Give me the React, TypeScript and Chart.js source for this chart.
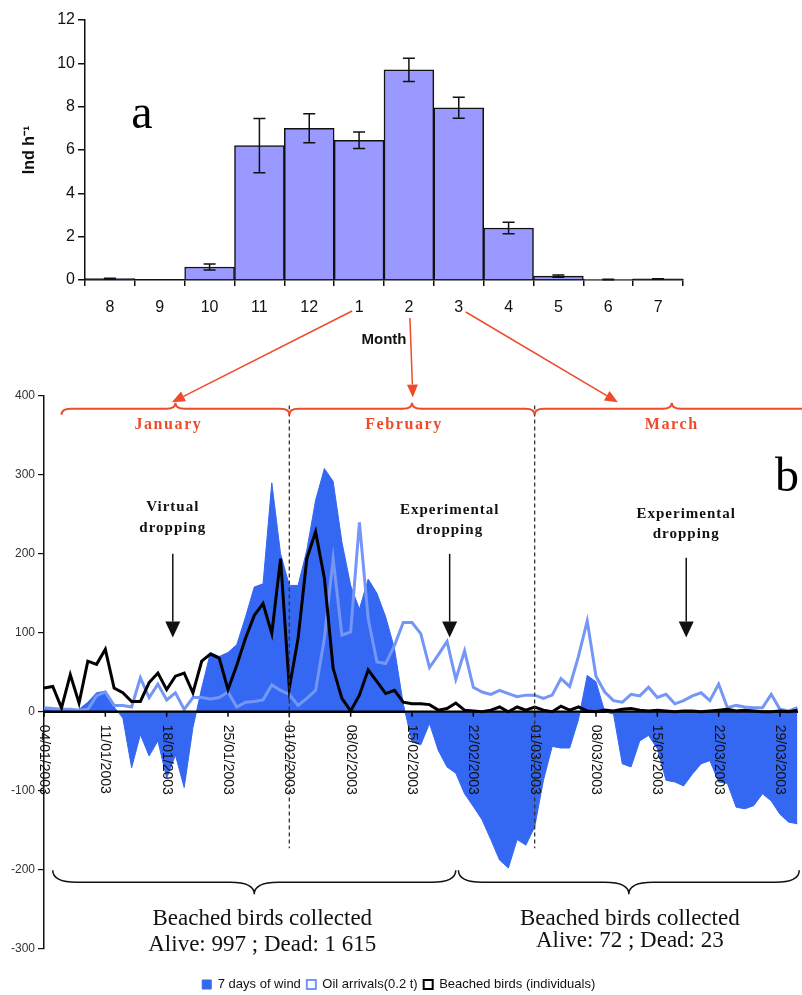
import React, { useEffect, useRef } from 'react';
import { Chart, registerables } from 'chart.js';

Chart.register(...registerables);

const SANS = '"Liberation Sans", Arial, sans-serif';
const SERIF = '"Liberation Serif", "Times New Roman", serif';
const RED = '#ee4b2b';
const WIND = '#3568f2';
const OIL = '#7496f6';

// ---- panel a ----
const months = ['8', '9', '10', '11', '12', '1', '2', '3', '4', '5', '6', '7'];
const monthlyRate = [0.06, 0, 0.6, 6.2, 7.0, 6.45, 9.7, 7.95, 2.4, 0.18, 0.02, 0.05];
const monthlyErr = [0.02, 0, 0.14, 1.25, 0.67, 0.38, 0.54, 0.48, 0.27, 0.05, 0.01, 0.01];

// ---- panel b ----
const dayTickLabels = [
  '04/01/2003', '11/01/2003', '18/01/2003', '25/01/2003', '01/02/2003', '08/02/2003',
  '15/02/2003', '22/02/2003', '01/03/2003', '08/03/2003', '15/03/2003', '22/03/2003', '29/03/2003',
];
const wind7d = [
  3, 2, 2, 1, 3, 12, 24, 26, 6, -8,
  -71, -29, -56, -37, -84, -55, -96, -20, 30, 75,
  70, 75, 85, 120, 158, 162, 290, 200, 160, 160,
  205, 268, 308, 292, 215, 160, 130, 168, 150, 120,
  80, 10, -38, -42, -15, -49, -70, -78, -104, -120,
  -137, -162, -188, -198, -162, -169, -146, -87, -44, -46,
  -46, -10, 46, 38, 0, -3, -66, -70, -37, -30,
  -47, -87, -89, -94, -79, -66, -62, -89, -91, -121,
  -123, -119, -104, -113, -130, -140, -142,
];
const oilArrivals = [
  5, 4, 3, 3, 2, 3, 20, 25, 8, 8,
  6, 43, 18, 35, 15, 24, 3, 18, 18, 16,
  18, 25, 6, 12, 13, 15, 34, 27, 22, 8,
  17, 27, 93, 194, 97, 101, 240, 118, 63, 61,
  84, 113, 113, 99, 56, 72, 89, 41, 77, 31,
  25, 22, 27, 23, 19, 21, 21, 17, 21, 42,
  32, 70, 115, 45, 25, 14, 12, 22, 20, 31,
  18, 22, 10, 14, 20, 24, 14, 35, 5, 8,
  6, 5, 5, 22, 3, 1, 5,
];
const beachedBirds = [
  30, 32, 5, 47, 11, 64, 60, 79, 30, 24,
  13, 13, 37, 49, 28, 45, 49, 24, 64, 73,
  68, 28, 59, 93, 122, 137, 99, 194, 30, 93,
  194, 228, 169, 55, 17, 1, 21, 53, 38, 23,
  27, 12, 10, 10, 9, 2, 4, 11, 2, 1,
  0, 2, 6, 0, 6, 2, 6, 2, 0, 7,
  2, 6, 1, 0, 2, 1, 3, 4, 2, 1,
  2, 1, 0, 1, 1, 0, 1, 2, 3, 1,
  2, 1, 0, 0, 1, 0, 2,
];
const START = Date.UTC(2003, 0, 4);
const pad2 = (n: number) => (n < 10 ? '0' + n : '' + n);
const dayLabels = wind7d.map((_, k) => {
  const d = new Date(START + k * 86400000);
  return `${pad2(d.getUTCDate())}/${pad2(d.getUTCMonth() + 1)}/${d.getUTCFullYear()}`;
});

const monthBraces = [
  { a: 2, b: 28, label: 'January', dx: -7 },
  { a: 28, b: 56, label: 'February', dx: -8 },
  { a: 56, b: 87.3, label: 'March', dx: 0 },
];
const monthArrows = [
  { from: 5, dx: -7, dy: 31, toI: 14.6, toV: 392 },
  { from: 6, dx: 1, dy: 38, toI: 42.1, toV: 398 },
  { from: 7, dx: 7, dy: 32, toI: 65.5, toV: 392 },
];
const droppings = [
  { i: 14.7, lines: ['Virtual', 'dropping'], t1: 259, t2: 233, top: 200, tip: 94 },
  { i: 46.3, lines: ['Experimental', 'dropping'], t1: 255, t2: 230, top: 200, tip: 94 },
  { i: 73.3, lines: ['Experimental', 'dropping'], t1: 250, t2: 225, top: 195, tip: 94 },
];
const collected = [
  { a: 1, b: 47, l1: 'Beached birds collected', l2: 'Alive: 997 ; Dead: 1 615' },
  { a: 47.3, b: 86.2, l1: 'Beached birds collected', l2: 'Alive: 72 ; Dead: 23' },
];

const TOP_Y = 0;
const BOT_Y = 290;

function brace(ctx: CanvasRenderingContext2D, x1: number, x2: number, yb: number, h: number, r: number, s: number) {
  const xm = (x1 + x2) / 2;
  ctx.beginPath();
  ctx.moveTo(x1, yb + s * h);
  ctx.quadraticCurveTo(x1, yb, x1 + r, yb);
  ctx.lineTo(xm - r, yb);
  ctx.quadraticCurveTo(xm, yb, xm, yb - s * h);
  ctx.quadraticCurveTo(xm, yb, xm + r, yb);
  ctx.lineTo(x2 - r, yb);
  ctx.quadraticCurveTo(x2, yb, x2, yb + s * h);
  ctx.stroke();
}

function arrow(ctx: CanvasRenderingContext2D, x1: number, y1: number, x2: number, y2: number, len: number, w: number) {
  const ang = Math.atan2(y2 - y1, x2 - x1);
  const bx = x2 - len * Math.cos(ang);
  const by = y2 - len * Math.sin(ang);
  ctx.beginPath();
  ctx.moveTo(x1, y1);
  ctx.lineTo(bx, by);
  ctx.stroke();
  ctx.beginPath();
  ctx.moveTo(x2, y2);
  ctx.lineTo(bx + (w / 2) * Math.sin(ang), by - (w / 2) * Math.cos(ang));
  ctx.lineTo(bx - (w / 2) * Math.sin(ang), by + (w / 2) * Math.cos(ang));
  ctx.closePath();
  ctx.fill();
}

const errorBarPlugin = {
  id: 'errorBars',
  afterDatasetsDraw(chart: any) {
    const { ctx, scales: { x, y } } = chart;
    ctx.save();
    ctx.strokeStyle = '#111';
    ctx.lineWidth = 1.5;
    monthlyRate.forEach((v, i) => {
      const e = monthlyErr[i];
      if (!e) return;
      const cx = x.getPixelForValue(i);
      const yt = y.getPixelForValue(v + e);
      const yb = y.getPixelForValue(Math.max(0, v - e));
      const cap = 6;
      ctx.beginPath();
      ctx.moveTo(cx, yt); ctx.lineTo(cx, yb);
      ctx.moveTo(cx - cap, yt); ctx.lineTo(cx + cap, yt);
      ctx.moveTo(cx - cap, yb); ctx.lineTo(cx + cap, yb);
      ctx.stroke();
    });
    ctx.fillStyle = '#000';
    ctx.font = `48px ${SERIF}`;
    ctx.textAlign = 'center';
    ctx.textBaseline = 'alphabetic';
    ctx.fillText('a', x.getPixelForValue(0.64), y.getPixelForValue(7.0));
    ctx.restore();
  },
};

const makeAnnotations = (topChart: any) => ({
  id: 'annotations',
  afterDatasetsDraw(chart: any) {
    const { ctx, chartArea, scales: { x, y } } = chart;
    const px = (i: number) => x.getPixelForValue(i);
    const py = (v: number) => y.getPixelForValue(v);
    const y0 = py(0);
    ctx.save();
    // zero axis line
    ctx.strokeStyle = '#000';
    ctx.lineWidth = 2.2;
    ctx.beginPath();
    ctx.moveTo(chartArea.left, y0);
    ctx.lineTo(chartArea.right, y0);
    ctx.stroke();
    // x ticks and rotated labels
    ctx.font = `14px ${SANS}`;
    ctx.fillStyle = '#111';
    ctx.textAlign = 'left';
    ctx.textBaseline = 'middle';
    ctx.lineWidth = 1.5;
    dayTickLabels.forEach((lab) => {
      const i = dayLabels.indexOf(lab);
      const xx = px(i);
      ctx.beginPath();
      ctx.moveTo(xx, y0);
      ctx.lineTo(xx, y0 + 5);
      ctx.stroke();
      ctx.save();
      ctx.translate(xx, y0 + 13);
      ctx.rotate(Math.PI / 2);
      ctx.fillText(lab, 0, 0);
      ctx.restore();
    });
    // dashed month separators
    ctx.save();
    ctx.setLineDash([4, 3]);
    ctx.strokeStyle = '#333';
    ctx.lineWidth = 1.3;
    [28, 56].forEach((i) => {
      ctx.beginPath();
      ctx.moveTo(px(i), py(388));
      ctx.lineTo(px(i), py(-173));
      ctx.stroke();
    });
    ctx.restore();
    // red month braces
    ctx.strokeStyle = RED;
    ctx.fillStyle = RED;
    ctx.lineWidth = 2;
    monthBraces.forEach((m) => {
      brace(ctx, px(m.a), px(m.b), py(384), 6, 9, 1);
    });
    ctx.font = `bold 16px ${SERIF}`;
    ctx.textAlign = 'center';
    ctx.textBaseline = 'middle';
    (ctx as any).letterSpacing = '1.6px';
    monthBraces.forEach((m) => {
      ctx.fillText(m.label, (px(m.a) + px(Math.min(m.b, 86.6))) / 2 + m.dx + (m.b > 87 ? 3 : 0), py(364));
    });
    (ctx as any).letterSpacing = '0px';
    // red arrows from panel a
    const tx = topChart.scales.x;
    const tb = topChart.chartArea.bottom;
    ctx.lineWidth = 1.5;
    monthArrows.forEach((a) => {
      const sx = tx.getPixelForValue(a.from) + a.dx;
      const sy = tb + a.dy + TOP_Y - BOT_Y;
      arrow(ctx, sx, sy, px(a.toI), py(a.toV), 13, 11);
    });
    // dropping annotations
    ctx.fillStyle = '#111';
    ctx.strokeStyle = '#111';
    ctx.font = `bold 15px ${SERIF}`;
    (ctx as any).letterSpacing = '1px';
    droppings.forEach((d) => {
      ctx.fillText(d.lines[0], px(d.i), py(d.t1));
      ctx.fillText(d.lines[1], px(d.i), py(d.t2));
    });
    (ctx as any).letterSpacing = '0px';
    ctx.lineWidth = 1.5;
    droppings.forEach((d) => {
      arrow(ctx, px(d.i), py(d.top), px(d.i), py(d.tip), 16, 15);
    });
    // panel letter
    ctx.font = `48px ${SERIF}`;
    ctx.textBaseline = 'alphabetic';
    ctx.fillStyle = '#000';
    ctx.fillText('b', px(84.8), py(280));
    // bottom braces and texts
    ctx.strokeStyle = '#111';
    ctx.lineWidth = 1.5;
    collected.forEach((c) => {
      brace(ctx, px(c.a), px(c.b), py(-216), 12, 24, -1);
    });
    ctx.fillStyle = '#111';
    ctx.font = `23px ${SERIF}`;
    ctx.textBaseline = 'middle';
    collected.forEach((c, k) => {
      const cx = (px(c.a) + px(c.b)) / 2 + (k === 0 ? 8 : 1);
      ctx.fillText(c.l1, cx, py(-262));
      ctx.fillText(c.l2, cx, py(k === 0 ? -295 : -290));
    });
    ctx.restore();
  },
});

export default function App() {
  const topRef = useRef<HTMLCanvasElement>(null);
  const botRef = useRef<HTMLCanvasElement>(null);

  useEffect(() => {
    const topChart = new Chart(topRef.current as HTMLCanvasElement, {
      type: 'bar',
      data: {
        labels: months,
        datasets: [
          {
            data: monthlyRate,
            backgroundColor: '#9999ff',
            borderColor: '#111',
            borderWidth: 1.5,
            barPercentage: 1,
            categoryPercentage: 1,
          },
        ],
      },
      options: {
        responsive: false,
        animation: false,
        events: [],
        layout: { padding: { top: 20, right: 119, left: 0, bottom: 0 } },
        plugins: { legend: { display: false }, tooltip: { enabled: false } },
        scales: {
          x: {
            grid: { drawOnChartArea: false, tickLength: 6, color: '#111', lineWidth: 1.5 },
            border: { color: '#111', width: 1.5 },
            ticks: { font: { family: SANS, size: 16 }, color: '#111', padding: 12 },
            title: {
              display: true,
              text: 'Month',
              font: { family: SANS, size: 15, weight: 'bold' },
              color: '#111',
              padding: { top: 4, bottom: 6 },
            },
            afterFit: (s: any) => { s.height = 75; },
          },
          y: {
            min: 0,
            max: 12,
            ticks: { stepSize: 2, font: { family: SANS, size: 16 }, color: '#111', padding: 3 },
            grid: { drawOnChartArea: false, tickLength: 7, color: '#111', lineWidth: 1.5 },
            border: { color: '#111', width: 1.5 },
            title: {
              display: true,
              text: 'Ind h⁻¹',
              font: { family: SANS, size: 16, weight: 'bold' },
              color: '#111',
              padding: { top: 20, bottom: 0 },
            },
            afterFit: (s: any) => { s.width = 85; },
          },
        },
      } as any,
      plugins: [errorBarPlugin],
    });

    const defaultLabels = (Chart.defaults as any).plugins.legend.labels.generateLabels;
    const botChart = new Chart(botRef.current as HTMLCanvasElement, {
      type: 'line',
      data: {
        labels: dayLabels,
        datasets: [
          {
            label: '7 days of wind',
            data: wind7d,
            fill: 'origin',
            backgroundColor: WIND,
            borderColor: WIND,
            borderWidth: 1,
            pointRadius: 0,
            tension: 0,
            order: 3,
          },
          {
            label: 'Oil arrivals(0.2 t)',
            data: oilArrivals,
            fill: false,
            backgroundColor: '#ffffff',
            borderColor: OIL,
            borderWidth: 3,
            pointRadius: 0,
            tension: 0,
            order: 2,
          },
          {
            label: 'Beached birds (individuals)',
            data: beachedBirds,
            fill: false,
            backgroundColor: '#ffffff',
            borderColor: '#000',
            borderWidth: 3,
            pointRadius: 0,
            tension: 0,
            order: 1,
          },
        ],
      },
      options: {
        responsive: false,
        animation: false,
        events: [],
        layout: { padding: { top: 106, right: 4.5, bottom: 0, left: 0 } },
        plugins: {
          tooltip: { enabled: false },
          legend: {
            position: 'bottom',
            title: { display: true, text: ' ', font: { size: 10 }, padding: 5.75 },
            labels: {
              font: { family: SANS, size: 13 },
              color: '#111',
              boxWidth: 9,
              boxHeight: 9,
              padding: 6,
              sort: (a: any, b: any) => a.datasetIndex - b.datasetIndex,
              generateLabels: (c: any) =>
                defaultLabels(c).map((l: any) => ({ ...l, lineWidth: l.datasetIndex === 0 ? 1 : 2 })),
            },
          },
        },
        scales: {
          x: {
            position: { y: 0 },
            grid: { display: false },
            border: { display: true, color: '#000', width: 2 },
            ticks: { display: false },
          },
          y: {
            min: -300,
            max: 400,
            ticks: { stepSize: 100, font: { family: SANS, size: 12 }, color: '#333', padding: 3 },
            grid: { drawOnChartArea: false, tickLength: 6, color: '#111', lineWidth: 1.2 },
            border: { color: '#111', width: 1.5 },
            afterFit: (s: any) => { s.width = 44; },
          },
        },
      } as any,
      plugins: [makeAnnotations(topChart)],
    });

    return () => {
      botChart.destroy();
      topChart.destroy();
    };
  }, []);

  return (
    <div
      style={{
        position: 'absolute',
        left: 0,
        top: 0,
        width: 802,
        height: 995,
        overflow: 'hidden',
        background: '#fff',
      }}
    >
      <canvas ref={topRef} width={802} height={355} style={{ position: 'absolute', left: 0, top: TOP_Y }} />
      <canvas ref={botRef} width={802} height={711} style={{ position: 'absolute', left: 0, top: BOT_Y }} />
    </div>
  );
}
